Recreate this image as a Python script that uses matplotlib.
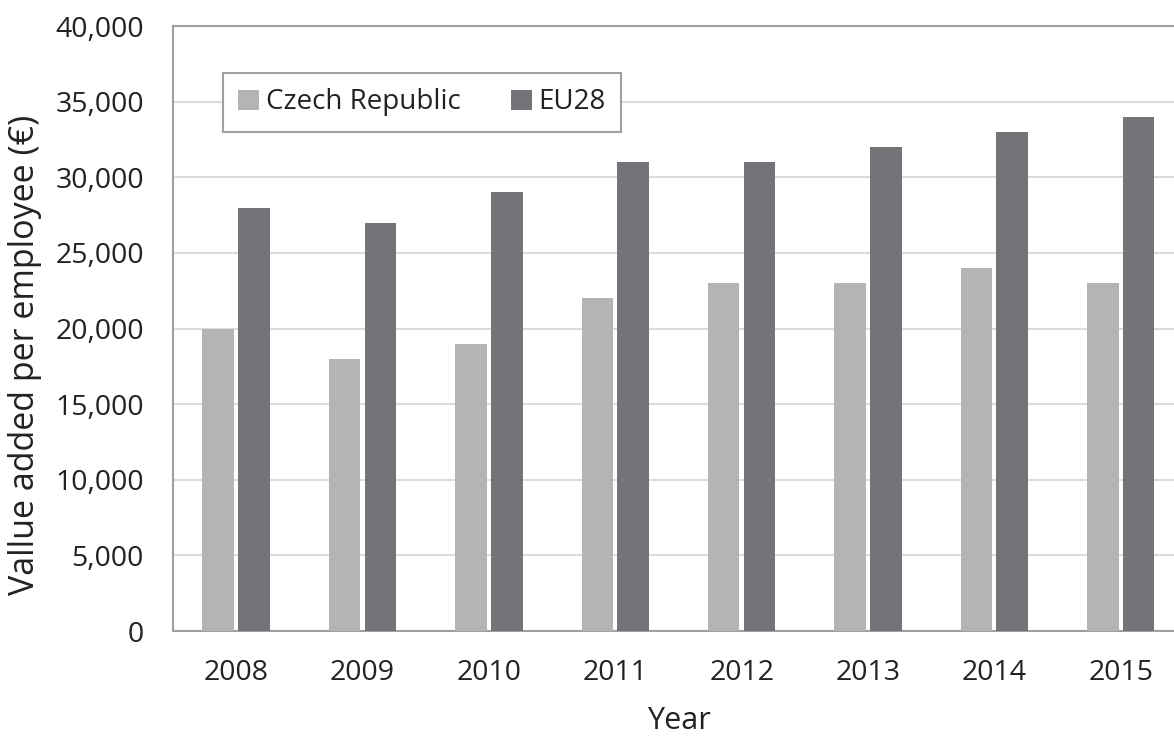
import numpy as np
from matplotlib import pyplot as plt
from matplotlib.ticker import FuncFormatter

years = ['2008', '2009', '2010', '2011', '2012', '2013', '2014', '2015']
czech = [20000, 18000, 19000, 22000, 23000, 23000, 24000, 23000]
eu28 = [28000, 27000, 29000, 31000, 31000, 32000, 33000, 34000]

plt.rcParams['font.family'] = ['Open Sans', 'DejaVu Sans']
text_col = '#222222'

fig = plt.figure(figsize=(11.74, 7.37), dpi=100)
ax = fig.add_axes([0.1474, 0.1438, 0.861, 0.8209])

x = np.arange(len(years))
w = 0.25
ax.bar(x - 0.142, czech, w, color='#b4b4b6', label='Czech Republic', zorder=3)
ax.bar(x + 0.142, eu28, w, color='#737477', label='EU28', zorder=3)

ax.set_xlim(-0.5, 7.5)
ax.set_ylim(0, 40000)
ax.set_yticks(range(0, 40001, 5000))
ax.yaxis.set_major_formatter(FuncFormatter(lambda v, p: f'{int(v):,}'))
ax.set_xticks(x)
ax.set_xticklabels(years)
ax.grid(axis='y', color='#dcdcdc', linewidth=1.5, zorder=0)

for s in ax.spines.values():
    s.set_color('#a0a0a0')
    s.set_linewidth(1.5)

ax.tick_params(length=0, labelsize=20.5, colors=text_col)
ax.tick_params(axis='y', pad=21)
ax.tick_params(axis='x', pad=20)
ax.set_xlabel('Year', fontsize=22, color=text_col)
ax.set_ylabel('Vallue added per employee (€)', fontsize=24.5, color=text_col)
ax.xaxis.set_label_coords(0.5, -0.148)
ax.yaxis.set_label_coords(-0.146, 0.456)
ax.xaxis.label.set_va('center')
ax.yaxis.label.set_va('center')

leg = ax.legend(loc='upper left', bbox_to_anchor=(0.0495, 0.922), ncol=2,
                fontsize=20, fancybox=False, framealpha=1, edgecolor='#a0a0a0',
                handlelength=0.75, handleheight=0.75, handletextpad=0.25,
                columnspacing=1.8, borderpad=0.55, borderaxespad=0)
leg.get_frame().set_linewidth(1.5)
for t in leg.get_texts():
    t.set_color(text_col)

fig.savefig('out.png', dpi=100)
